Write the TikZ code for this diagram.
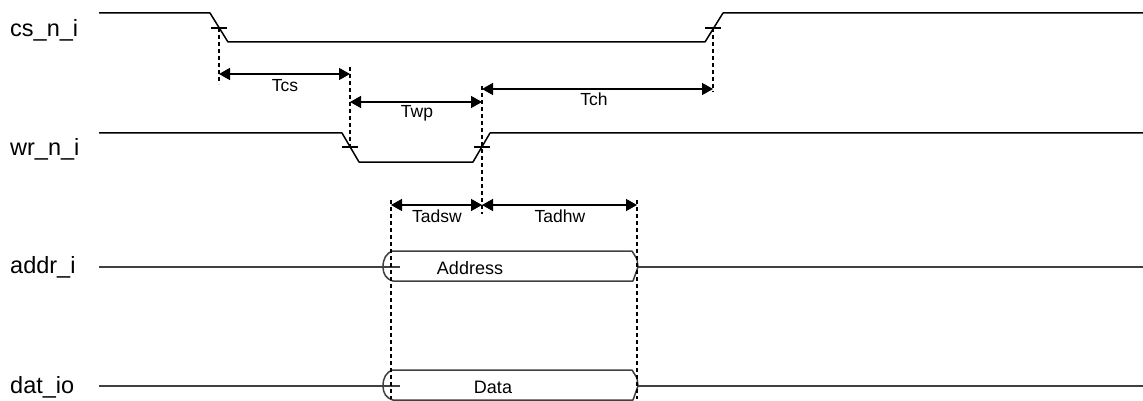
\documentclass[tikz,border=0pt]{standalone}
\usepackage{fontspec}
\setmainfont{Liberation Sans}
\usetikzlibrary{arrows.meta}
\begin{document}
\begin{tikzpicture}[x=1pt,y=-1pt,
 sig/.style={line width=1.5pt, black, line join=round},
 bus/.style={line width=1.5pt, black!75, line join=round},
 dim/.style={line width=1.5pt,{Triangle[length=11pt,width=12pt]}-{Triangle[length=11pt,width=12pt]}},
 guide/.style={line width=1.2pt, dash pattern=on 4pt off 3pt},
 tickmark/.style={line width=1.2pt},
 siglabel/.style={anchor=west, font=\fontsize{23.5}{26}\selectfont, inner sep=0pt},
 timelabel/.style={font=\fontsize{17.5}{20}\selectfont, inner sep=0pt},
 buslabel/.style={font=\fontsize{18}{21}\selectfont, inner sep=0pt},
 busval/.pic={
   \draw[bus] (10,-16) -- (249,-16) -- (254,-8) -- (255,0) -- (250,14) -- (10,14)
     .. controls (3,12) and (0,7) .. (0,0) .. controls (0,-8) and (3,-14) .. (10,-16);
   \draw[bus] (0,0) -- (17,0);
 },
]
\useasboundingbox (0,0) rectangle (1143,401);

% signal labels
\node[siglabel] (lcs)   at (10,30)  {cs\_n\_i};
\node[siglabel] (lwr)   at (10,149) {wr\_n\_i};
\node[siglabel] (laddr) at (10,267) {addr\_i};
\node[siglabel] (ldat)  at (10,387) {dat\_io};

% crossing points
\coordinate (csF) at (219,28);
\coordinate (csR) at (713,28);
\coordinate (wrF) at (350,147);
\coordinate (wrR) at (482,147);

% waveforms
\draw[sig] (99,13) -- (210,13) -- (228,42) -- (705,42) -- (723,13) -- (1143,13);
\draw[sig] (99,133) -- (342,133) -- (359,162) -- (473,162) -- (490,133) -- (1143,133);

% ticks
\foreach \p in {csF,csR,wrF,wrR} \draw[tickmark] (\p) ++(-8,0) -- ++(16,0);

% buses
\draw[bus] (99,267) -- (383,267);
\pic at (383,267) {busval};
\draw[bus] (638,267) -- (1143,267);
\node[buslabel] (vaddr) at (470,268) {Address};

\draw[bus] (99,386) -- (383,386);
\pic at (383,386) {busval};
\draw[bus] (638,386) -- (1143,386);
\node[buslabel] (vdat) at (493,387) {Data};

% timing reference coordinates
\coordinate (tcsA) at (219,74);
\coordinate (tcsB) at (350,74);
\coordinate (twpA) at (350,102);
\coordinate (twpB) at (482,102);
\coordinate (tchA) at (482,89);
\coordinate (tchB) at (713,89);
\coordinate (tadA) at (391,205);
\coordinate (tadM) at (482,205);
\coordinate (tadB) at (637,205);

% guides
\draw[guide] (csF) -- (219,84);
\draw[guide] (350,67) -- (wrF);
\draw[guide] (csR) -- (713,92);
\draw[guide] (482,86) -- (482,214);
\draw[guide] (391,200) -- (391,399);
\draw[guide] (637,200) -- (637,399);

% dimension arrows
\draw[dim] (tcsA) -- (tcsB);
\draw[dim] (twpA) -- (twpB);
\draw[dim] (tchA) -- (tchB);
\draw[dim] (tadA) -- (tadM);
\draw[dim] (tadM) -- (tadB);

\node[timelabel] (ltcs)   at (285,86)  {Tcs};
\node[timelabel] (ltwp)   at (417,113) {Twp};
\node[timelabel] (ltch)   at (594,99)  {Tch};
\node[timelabel] (ltadsw) at (437,216) {Tadsw};
\node[timelabel] (ltadhw) at (560,216) {Tadhw};
\end{tikzpicture}
\end{document}
